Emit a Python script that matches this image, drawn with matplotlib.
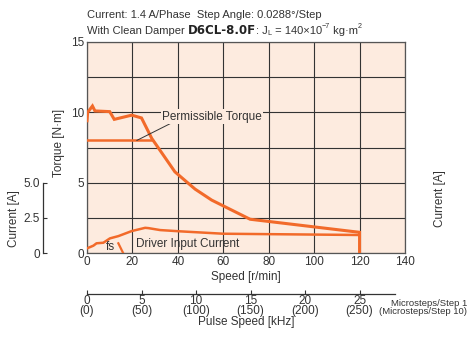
import matplotlib
matplotlib.use("Agg")
import matplotlib.pyplot as plt

plt.rcParams['font.family'] = ['Liberation Sans Narrow', 'Liberation Sans', 'DejaVu Sans']

# --- data ---
torque_speed = [0, 0.3, 2.4, 3.5, 10, 12, 19.7, 24, 28.5, 38.7, 47.6, 54.9, 71.8, 120, 120]
torque_vals = [9.4, 10.0, 10.45, 10.1, 10.05, 9.5, 9.8, 9.6, 8.15, 5.77, 4.54, 3.76, 2.4, 1.47, 0]

perm_speed = [0, 28.5]
perm_vals = [8.0, 8.0]

current_speed = [0, 2.8, 4.2, 7.2, 10.1, 13.8, 19.7, 25.6, 27, 32.2, 41, 60, 120]
current_vals = [0.33, 0.52, 0.69, 0.73, 1.04, 1.2, 1.56, 1.79, 1.77, 1.63, 1.54, 1.37, 1.28]

fs_speed = [13.8, 15.9]
fs_vals = [0.69, 0.0]

pulse_khz = [0, 5, 10, 15, 20, 25]
pulse_micro10 = [0, 50, 100, 150, 200, 250]
speed_per_khz = 4.8  # 0.0288 deg/step

orange = '#f26a2a'
bg = '#fdebdf'
grid_c = '#333333'
txt_c = '#333333'
W, H = 468, 342

fig = plt.figure(figsize=(W / 100, H / 100), dpi=100)
L, R, T, B = 87, 405, 42, 253
ax = fig.add_axes([L / W, 1 - B / H, (R - L) / W, (B - T) / H])
ax.set_facecolor(bg)
ax.set_xlim(0, 140)
ax.set_ylim(0, 15)
ax.set_xticks(range(0, 141, 20))
ax.set_yticks([0, 5, 10, 15])
ax.set_yticks([2.5, 7.5, 12.5], minor=True)
ax.grid(True, which='both', color=grid_c, lw=0.8)
ax.tick_params(which='both', length=0, labelsize=8.5, pad=2, colors=txt_c)
for s in ax.spines.values():
    s.set_color('#555555')
    s.set_linewidth(0.9)

ax.plot(torque_speed, torque_vals, color=orange, lw=2.2, solid_joinstyle='miter', zorder=3)
ax.plot(perm_speed, perm_vals, color=orange, lw=1.8, zorder=3)
ax.plot(current_speed, current_vals, color=orange, lw=1.8, zorder=3)
ax.plot(fs_speed, fs_vals, color=orange, lw=1.6, zorder=3)

ax.annotate('Permissible Torque', xy=(21.9, 8.0), xytext=(33.2, 9.7),
            fontsize=8.5, color=txt_c, va='center', ha='left',
            bbox=dict(boxstyle='square,pad=0.1', fc=bg, ec='none'),
            arrowprops=dict(arrowstyle='-', color=txt_c, lw=0.7,
                            shrinkA=0, shrinkB=0, relpos=(0.1, 0.0)), zorder=4)
ax.text(10.5, 0.45, 'fs', fontsize=8.5, color=txt_c, ha='center', va='center', zorder=4)
ax.text(21.6, 0.62, 'Driver Input Current', fontsize=8.5, color=txt_c,
        ha='left', va='center', zorder=4)

ax.set_xlabel('Speed [r/min]', fontsize=8.5, color=txt_c, labelpad=2)
ax.set_ylabel('Torque [N·m]', fontsize=8.5, color=txt_c)
ax.yaxis.set_label_coords(-0.068, 0.52)

# current axis on the left
cx = 43
axc = fig.add_axes([cx / W, 1 - B / H, 0.001, (B - T) / H])
axc.set_ylim(0, 15)
axc.patch.set_visible(False)
for k in ['top', 'right', 'bottom']:
    axc.spines[k].set_visible(False)
axc.spines['left'].set_bounds(0, 5)
axc.spines['left'].set_color(txt_c)
axc.spines['left'].set_linewidth(0.9)
axc.set_xticks([])
axc.set_yticks([0, 2.5, 5])
axc.set_yticklabels(['0', '2.5', '5.0'])
axc.tick_params(axis='y', direction='in', length=3, labelsize=8.5, pad=2, colors=txt_c)
fig.text(14 / W, 1 - 219 / H, 'Current [A]', rotation=90, ha='center', va='center',
         fontsize=8.5, color=txt_c)

# pulse speed axis
py = 294
axp = fig.add_axes([L / W, 1 - py / H, (R - L) / W, 0.001])
axp.set_xlim(0, 140)
axp.patch.set_visible(False)
for k in ['top', 'right', 'left']:
    axp.spines[k].set_visible(False)
axp.spines['bottom'].set_bounds(0, 135.7)
axp.spines['bottom'].set_color(txt_c)
axp.spines['bottom'].set_linewidth(0.9)
axp.set_yticks([])
axp.set_xticks([k * speed_per_khz for k in pulse_khz])
axp.set_xticklabels([f'{a}\n({b})' for a, b in zip(pulse_khz, pulse_micro10)],
                    linespacing=0.75)
axp.tick_params(axis='x', direction='in', length=3, labelsize=8.5, pad=1, colors=txt_c)
fig.text(246 / W, 1 - 322 / H, 'Pulse Speed [kHz]', ha='center', va='center',
         fontsize=8.5, color=txt_c)
fig.text(467 / W, 1 - 303 / H, 'Microsteps/Step 1', ha='right', va='center',
         fontsize=6.8, color=txt_c)
fig.text(467 / W, 1 - 311 / H, '(Microsteps/Step 10)', ha='right', va='center',
         fontsize=6.8, color=txt_c)

# cut-off label from neighbouring chart
fig.text(440 / W, 1 - 199 / H, 'Current [A]', rotation=90, ha='center', va='center',
         fontsize=8.5, color=txt_c)

# title lines
fig.text(87 / W, 1 - 15 / H, 'Current: 1.4 A/Phase  Step Angle: 0.0288°/Step',
         ha='left', va='center', fontsize=8, color=txt_c)

renderer = fig.canvas.get_renderer()
x = 87 / W
y = 1 - 31 / H
pieces = [
    ('With Clean Damper ', 8, 'normal', 0),
    ('D6CL-8.0F', 8.5, 'bold', 0),
    (': J', 8, 'normal', 0),
    ('L', 5.2, 'normal', -0.006),
    (' = 140×10', 8, 'normal', 0),
    ('−7', 5.2, 'normal', 0.012),
    (' kg·m', 8, 'normal', 0),
    ('2', 5.2, 'normal', 0.012),
]
for txt, fsz, wt, dy in pieces:
    extra = {'family': ['DejaVu Sans']} if wt == 'bold' else {}
    t = fig.text(x, y + dy, txt, ha='left', va='center', fontsize=fsz,
                 fontweight=wt, color='#222222' if wt == 'bold' else txt_c, **extra)
    bb = t.get_window_extent(renderer=renderer)
    x = bb.x1 / W

fig.savefig('out.png', dpi=100)
